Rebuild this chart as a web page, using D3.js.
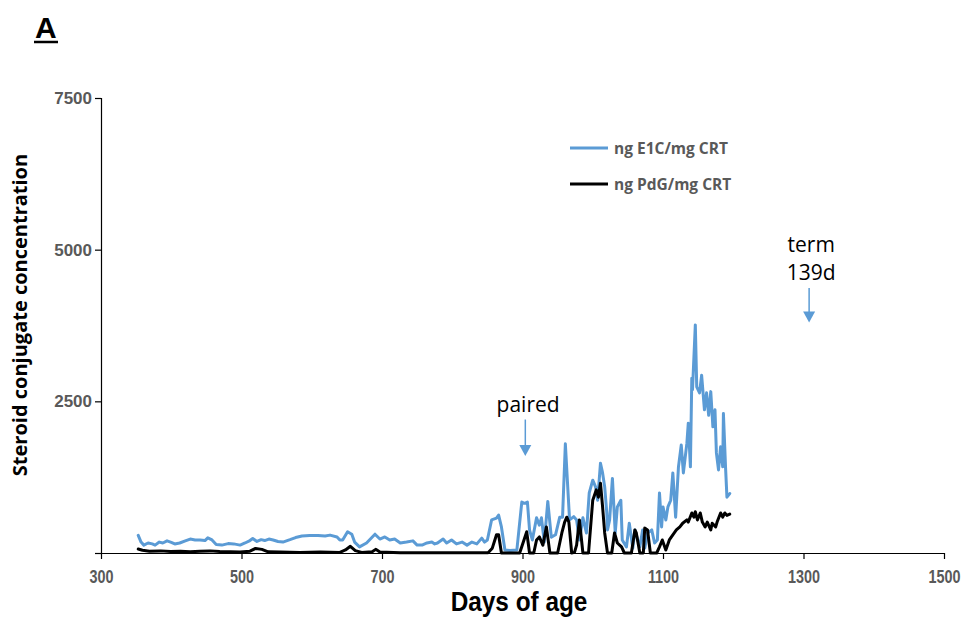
<!DOCTYPE html>
<html>
<head>
<meta charset="utf-8">
<script src="https://cdn.jsdelivr.net/npm/d3@7"></script>
<style>
  body { margin: 0; background: #fff; }
  svg { display: block; }
</style>
</head>
<body>
<svg id="chart"></svg>
<script>
const width = 968, height = 622;

// E1C series (ng E1C/mg CRT)
const e1cDays = [353,357,361,367,373,377,383,388,394,400,405,412,420,427,434,441,448,452,458,464,472,481,489,498,505,512,516,522,528,533,539,545,552,559,569,577,586,597,609,619,626,636,640,644,651,657,661,668,678,690,697,704,711,718,726,735,744,750,757,764,771,775,779,787,792,799,806,814,821,828,835,842,846,850,856,863,866,870,875,882,892,899,903,907,910,914,920,924,927,931,936,941,947,953,957,961,967,973,977,981,986,991,995,1000,1004,1007,1011,1014,1017,1020,1021,1024,1028,1032,1035,1040,1042,1048,1052,1057,1060,1067,1071,1074,1078,1084,1088,1092,1095,1098,1100,1104,1107,1111,1114,1118,1122,1126,1129,1134,1136,1139,1141,1142,1146,1148,1152,1155,1159,1162,1165,1168,1171,1174,1176,1179,1182,1185,1186,1189,1191,1195];
const e1cValues = [290,180,130,165,150,130,180,165,200,175,150,165,200,230,215,215,205,250,215,140,130,155,150,130,165,205,240,190,220,205,230,215,190,180,220,255,280,290,290,280,295,265,215,215,350,310,180,100,165,310,230,265,215,230,165,180,200,130,130,165,180,150,165,230,165,215,150,180,130,180,150,245,180,215,545,575,625,430,50,40,50,840,820,840,380,215,580,460,580,180,850,260,300,590,590,1800,545,600,545,215,580,330,990,1200,1090,870,1480,1320,1090,660,380,545,1230,330,760,870,215,100,490,80,380,100,380,80,330,380,165,215,990,430,760,545,760,870,1320,590,1420,1780,1320,1810,2140,1420,2880,2690,3760,2740,2640,2930,2360,2640,2270,2660,2080,2360,1650,1370,1750,1420,2300,1420,920,980];

// PdG series (ng PdG/mg CRT)
const pdgDays = [353,359,369,385,399,413,427,441,455,469,484,498,512,520,529,538,555,583,612,640,648,655,662,671,686,691,697,726,768,811,851,857,863,866,870,896,906,910,916,920,924,929,934,939,950,956,960,963,966,970,974,977,981,986,994,1000,1005,1008,1011,1014,1017,1021,1027,1031,1035,1041,1045,1055,1060,1062,1067,1072,1074,1078,1082,1091,1095,1099,1104,1109,1114,1119,1124,1128,1134,1136,1141,1144,1146,1149,1153,1156,1160,1163,1168,1170,1175,1177,1182,1185,1188,1191,1195];
const pdgValues = [65,45,30,35,25,30,20,30,35,25,20,15,30,75,60,20,15,10,15,10,50,110,40,10,20,60,15,5,5,5,5,80,300,300,0,0,350,0,0,215,265,130,430,0,0,330,510,590,510,0,10,130,545,0,0,870,1040,920,1150,760,330,0,0,330,165,100,0,0,380,330,0,0,410,380,0,0,100,215,50,215,300,380,430,490,545,510,660,590,680,545,660,510,430,510,380,490,430,510,660,590,660,620,640];

const xTicks = [300, 500, 700, 900, 1100, 1300, 1500];
const yTicks = [0, 2500, 5000, 7500];
const seriesNames = ["ng E1C/mg CRT", "ng PdG/mg CRT"];
const seriesColors = ["#5B9BD5", "#000000"];

const svg = d3.select("#chart")
  .attr("width", width)
  .attr("height", height)
  .style("font-family", "'Open Sans', 'DejaVu Sans', sans-serif");

const x = d3.scaleLinear().domain([300, 1500]).range([101, 944]);
const y = d3.scaleLinear().domain([0, 7500]).range([553, 98]);

// y axis
const yAxis = svg.append("g")
  .attr("transform", "translate(101,0)")
  .call(d3.axisLeft(y).tickValues(yTicks).tickSize(6).tickFormat(d => d === 0 ? "" : d));
yAxis.select(".domain").attr("stroke", "#000").attr("stroke-width", 1.2);
yAxis.selectAll(".tick line").attr("stroke", "#000").attr("stroke-width", 1.2);
yAxis.selectAll(".tick text")
  .attr("fill", "#595959")
  .style("font-size", "17px")
  .style("font-weight", "bold")
  .attr("x", -9);

// x axis
const xAxis = svg.append("g")
  .attr("transform", "translate(0,553)")
  .call(d3.axisBottom(x).tickValues(xTicks).tickSize(6).tickSizeOuter(0).tickFormat(d3.format("d")));
xAxis.select(".domain").attr("stroke", "#000").attr("stroke-width", 1.2);
xAxis.selectAll(".tick line").attr("stroke", "#000").attr("stroke-width", 1.2);
xAxis.selectAll(".tick text")
  .attr("fill", "#595959")
  .attr("y", 17)
  .attr("transform", "scale(0.8,1)")
  .style("font-family", "'Liberation Sans', Arial, sans-serif")
  .style("font-size", "18px")
  .style("font-weight", "bold");

// axis titles
svg.append("text")
  .attr("transform", "translate(519,611) scale(0.87,1)")
  .attr("text-anchor", "middle")
  .style("font-family", "'Liberation Sans', Arial, sans-serif")
  .style("font-size", "28px")
  .style("font-weight", "bold")
  .text("Days of age");

svg.append("text")
  .attr("transform", "translate(27,315) rotate(-90)")
  .attr("text-anchor", "middle")
  .style("font-size", "20px")
  .style("font-weight", "bold")
  .text("Steroid conjugate concentration");

// panel letter
svg.append("text")
  .attr("x", 35).attr("y", 38)
  .style("font-family", "'Liberation Sans', Arial, sans-serif")
  .style("font-size", "30px")
  .style("font-weight", "bold")
  .text("A");
svg.append("line")
  .attr("x1", 34).attr("x2", 58)
  .attr("y1", 42).attr("y2", 42)
  .attr("stroke", "#000").attr("stroke-width", 2.5);

// lines
const e1c = e1cDays.map((d, i) => ({ day: d, value: e1cValues[i] }));
const pdg = pdgDays.map((d, i) => ({ day: d, value: pdgValues[i] }));

const line = d3.line()
  .x(d => x(d.day))
  .y(d => y(d.value));

[e1c, pdg].forEach((data, i) => {
  svg.append("path")
    .datum(data)
    .attr("fill", "none")
    .attr("stroke", seriesColors[i])
    .attr("stroke-width", 3)
    .attr("stroke-linejoin", "round")
    .attr("stroke-linecap", "round")
    .attr("d", line);
});

// legend
const legend = svg.append("g");
seriesNames.forEach((name, i) => {
  const ly = 148 + i * 36;
  legend.append("line")
    .attr("x1", 570).attr("x2", 608)
    .attr("y1", ly).attr("y2", ly)
    .attr("stroke", seriesColors[i])
    .attr("stroke-width", 3);
  legend.append("text")
    .attr("x", 614).attr("y", ly + 6)
    .attr("fill", "#595959")
    .style("font-size", "15.5px")
    .style("font-weight", "bold")
    .text(name);
});

// annotations
const arrowBlue = "#5B9BD5";
function arrow(day, top, bottom) {
  const ax = x(day);
  svg.append("line")
    .attr("x1", ax).attr("x2", ax)
    .attr("y1", y(top)).attr("y2", y(bottom) - 10)
    .attr("stroke", arrowBlue).attr("stroke-width", 1.5);
  svg.append("path")
    .attr("d", `M${ax - 6},${y(bottom) - 11} L${ax + 6},${y(bottom) - 11} L${ax},${y(bottom)} Z`)
    .attr("fill", arrowBlue);
}

svg.append("text")
  .attr("x", x(908)).attr("y", 412)
  .attr("text-anchor", "middle")
  .style("font-size", "21px")
  .text("paired");
arrow(904, 2200, 1600);

svg.append("text")
  .attr("x", x(1311)).attr("y", 252)
  .attr("text-anchor", "middle")
  .style("font-size", "21px")
  .text("term");
svg.append("text")
  .attr("x", x(1311)).attr("y", 280)
  .attr("text-anchor", "middle")
  .style("font-size", "21px")
  .text("139d");
arrow(1308, 4370, 3800);
</script>
</body>
</html>
